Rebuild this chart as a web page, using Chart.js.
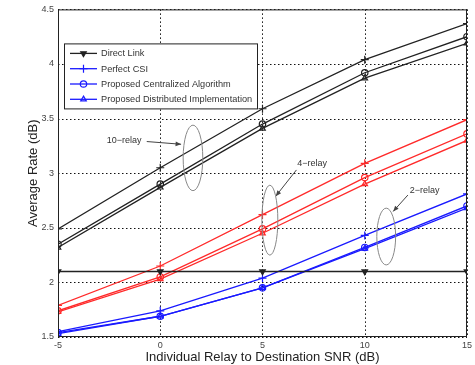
<!DOCTYPE html>
<html>
<head>
<meta charset="utf-8">
<script src="https://cdn.jsdelivr.net/npm/chart.js@4/dist/chart.umd.min.js"></script>
<style>
  html, body { margin: 0; padding: 0; background: #fff; }
  #wrap { width: 475px; height: 365px; position: relative; }
</style>
</head>
<body>
<div id="wrap"><canvas id="chart"></canvas></div>
<script>
// x axis: individual relay to destination SNR (dB)
const snr = [-5, 0, 5, 10, 15];
const xTicks = [-5, 0, 5, 10, 15];
const yTicks = [1.5, 2, 2.5, 3, 3.5, 4, 4.5];

const directLink = [2.1, 2.1, 2.1, 2.1, 2.1];

// 10 relays
const perfect10 = [2.49, 3.05, 3.59, 4.04, 4.37];
const central10 = [2.35, 2.90, 3.45, 3.92, 4.25];
const distrib10 = [2.32, 2.87, 3.41, 3.87, 4.19];

// 4 relays
const perfect4 = [1.79, 2.15, 2.62, 3.09, 3.49];
const central4 = [1.74, 2.05, 2.49, 2.96, 3.36];
const distrib4 = [1.73, 2.03, 2.45, 2.90, 3.30];

// 2 relays
const perfect2 = [1.55, 1.74, 2.04, 2.43, 2.81];
const central2 = [1.54, 1.69, 1.95, 2.32, 2.70];
const distrib2 = [1.53, 1.69, 1.95, 2.31, 2.68];

const legendLabels = ['Direct Link', 'Perfect CSI', 'Proposed Centralized Algorithm', 'Proposed Distributed Implementation'];
const groupLabels = ['10\u2212relay', '4\u2212relay', '2\u2212relay'];

const BLACK = '#222';
const RED = '#ff2a2a';
const BLUE = '#1a1aff';
const FONT = '"Liberation Sans", Arial, sans-serif';

function pts(vals) {
  return vals.map((v, i) => ({ x: snr[i], y: v }));
}

function series(label, vals, color, style, rot) {
  return {
    label: label,
    data: pts(vals),
    borderColor: color,
    backgroundColor: 'rgba(0,0,0,0)',
    borderWidth: 1.3,
    pointStyle: style,
    pointRotation: rot || 0,
    pointRadius: style === 'cross' ? 4 : 3.2,
    pointBorderWidth: 1.2,
    pointBorderColor: color,
    pointBackgroundColor: 'rgba(0,0,0,0)',
    tension: 0
  };
}

const datasets = [
  series('Direct Link', directLink, BLACK, 'triangle', 180),
  series('Perfect CSI 10', perfect10, BLACK, 'cross'),
  series('Centralized 10', central10, BLACK, 'circle'),
  series('Distributed 10', distrib10, BLACK, 'triangle'),
  series('Perfect CSI 4', perfect4, RED, 'cross'),
  series('Centralized 4', central4, RED, 'circle'),
  series('Distributed 4', distrib4, RED, 'triangle'),
  series('Perfect CSI 2', perfect2, BLUE, 'cross'),
  series('Centralized 2', central2, BLUE, 'circle'),
  series('Distributed 2', distrib2, BLUE, 'triangle')
];
// direct link marker is filled in the picture
datasets[0].pointBackgroundColor = BLACK;

// annotations, in data units (text, arrow, ellipse)
const notes = [
  { text: groupLabels[0], tx: -1.77, ty: 3.30, ax0: -0.66, ay0: 3.29, ax1: 1.02, ay1: 3.265, ex: 1.60, ey: 3.14, erx: 0.48, ery: 0.30 },
  { text: groupLabels[1], tx: 7.43, ty: 3.09, ax0: 6.66, ay0: 3.03, ax1: 5.65, ay1: 2.79, ex: 5.36, ey: 2.57, erx: 0.39, ery: 0.32 },
  { text: groupLabels[2], tx: 12.93, ty: 2.84, ax0: 12.11, ay0: 2.80, ax1: 11.39, ay1: 2.65, ex: 11.05, ey: 2.42, erx: 0.46, ery: 0.26 }
];

function drawMarker(ctx, style, x, y, rot) {
  Chart.helpers.drawPoint(ctx, {
    pointStyle: style, radius: style === 'cross' ? 4 : 3.2, rotation: rot || 0, borderWidth: 1.2
  }, x, y);
}

const extras = {
  id: 'extras',
  beforeDatasetsDraw(chart) {
    // dotted matlab-style grid
    const ctx = chart.ctx;
    const xs = chart.scales.x, ys = chart.scales.y;
    const a = chart.chartArea;
    ctx.save();
    ctx.strokeStyle = '#111';
    ctx.lineWidth = 1;
    ctx.setLineDash([1.5, 2.5]);
    xTicks.forEach(v => {
      const px = Math.round(xs.getPixelForValue(v)) + 0.5;
      ctx.beginPath(); ctx.moveTo(px, a.top); ctx.lineTo(px, a.bottom); ctx.stroke();
    });
    yTicks.forEach(v => {
      const py = Math.round(ys.getPixelForValue(v)) + 0.5;
      ctx.beginPath(); ctx.moveTo(a.left, py); ctx.lineTo(a.right, py); ctx.stroke();
    });
    ctx.restore();
  },
  afterDraw(chart) {
    const ctx = chart.ctx;
    const xs = chart.scales.x, ys = chart.scales.y;
    const a = chart.chartArea;
    ctx.save();

    // frame
    ctx.strokeStyle = '#222';
    ctx.lineWidth = 1;
    ctx.setLineDash([]);
    ctx.strokeRect(a.left + 0.5, a.top + 0.5, a.right - a.left - 1, a.bottom - a.top - 1);

    // annotations
    ctx.font = '9px ' + FONT;
    notes.forEach(n => {
      const tx = xs.getPixelForValue(n.tx), ty = ys.getPixelForValue(n.ty);
      ctx.fillStyle = '#333';
      ctx.textAlign = 'center';
      ctx.textBaseline = 'middle';
      ctx.fillText(n.text, tx, ty);

      const x0 = xs.getPixelForValue(n.ax0), y0 = ys.getPixelForValue(n.ay0);
      const x1 = xs.getPixelForValue(n.ax1), y1 = ys.getPixelForValue(n.ay1);
      ctx.strokeStyle = '#444';
      ctx.lineWidth = 1;
      ctx.beginPath();
      ctx.moveTo(x0, y0);
      ctx.lineTo(x1, y1);
      ctx.stroke();
      const ang = Math.atan2(y1 - y0, x1 - x0);
      ctx.fillStyle = '#444';
      ctx.beginPath();
      ctx.moveTo(x1, y1);
      ctx.lineTo(x1 - 6 * Math.cos(ang - 0.4), y1 - 6 * Math.sin(ang - 0.4));
      ctx.lineTo(x1 - 6 * Math.cos(ang + 0.4), y1 - 6 * Math.sin(ang + 0.4));
      ctx.closePath();
      ctx.fill();

      const ex = xs.getPixelForValue(n.ex), ey = ys.getPixelForValue(n.ey);
      const rx = Math.abs(xs.getPixelForValue(n.ex + n.erx) - ex);
      const ry = Math.abs(ys.getPixelForValue(n.ey + n.ery) - ey);
      ctx.strokeStyle = '#888';
      ctx.beginPath();
      ctx.ellipse(ex, ey, rx, ry, 0, 0, Math.PI * 2);
      ctx.stroke();
    });

    // legend box
    const lx = a.left + 6, ly = a.top + 34, lw = 193, lh = 65;
    ctx.fillStyle = '#fff';
    ctx.fillRect(lx, ly, lw, lh);
    ctx.strokeStyle = '#222';
    ctx.lineWidth = 1;
    ctx.strokeRect(lx + 0.5, ly + 0.5, lw, lh);
    const styles = [['triangle', 180, BLACK], ['cross', 0, BLUE], ['circle', 0, BLUE], ['triangle', 0, BLUE]];
    ctx.font = '9.2px ' + FONT;
    ctx.textAlign = 'left';
    ctx.textBaseline = 'middle';
    legendLabels.forEach((lab, i) => {
      const yy = ly + 10 + i * 15.3;
      const [st, rot, col] = styles[i];
      ctx.strokeStyle = col;
      ctx.lineWidth = 1.3;
      ctx.beginPath();
      ctx.moveTo(lx + 6, yy);
      ctx.lineTo(lx + 33, yy);
      ctx.stroke();
      ctx.fillStyle = i === 0 ? BLACK : 'rgba(0,0,0,0)';
      ctx.lineWidth = 1.2;
      drawMarker(ctx, st, lx + 19.5, yy, rot);
      ctx.fillStyle = '#333';
      ctx.fillText(lab, lx + 37, yy + 0.5);
    });
    ctx.restore();
  }
};

new Chart(document.getElementById('chart'), {
  type: 'line',
  data: { datasets: datasets },
  options: {
    responsive: true,
    maintainAspectRatio: false,
    animation: false,
    events: [],
    layout: { padding: { left: 0, right: 2, top: 9, bottom: 0 } },
    plugins: { legend: { display: false }, tooltip: { enabled: false } },
    scales: {
      x: {
        type: 'linear',
        min: -5, max: 15,
        afterBuildTicks: s => { s.ticks = xTicks.map(v => ({ value: v })); },
        afterFit: s => { s.height = 28; },
        grid: { display: false, drawTicks: false },
        border: { display: false },
        ticks: { color: '#444', font: { size: 9, family: FONT }, padding: 3, maxRotation: 0, callback: v => String(v) },
        title: { display: true, text: 'Individual Relay to Destination SNR (dB)', color: '#222', font: { size: 13, family: FONT }, padding: { top: 0, bottom: 0 } }
      },
      y: {
        min: 1.5, max: 4.5,
        afterBuildTicks: s => { s.ticks = yTicks.map(v => ({ value: v })); },
        afterFit: s => { s.width = 58; },
        grid: { display: false, drawTicks: false },
        border: { display: false },
        ticks: { color: '#444', font: { size: 9, family: FONT }, padding: 4, callback: v => String(v) },
        title: { display: true, text: 'Average Rate (dB)', color: '#222', font: { size: 13, family: FONT }, padding: { top: 26, bottom: 0 } }
      }
    }
  },
  plugins: [extras]
});
</script>
</body>
</html>
